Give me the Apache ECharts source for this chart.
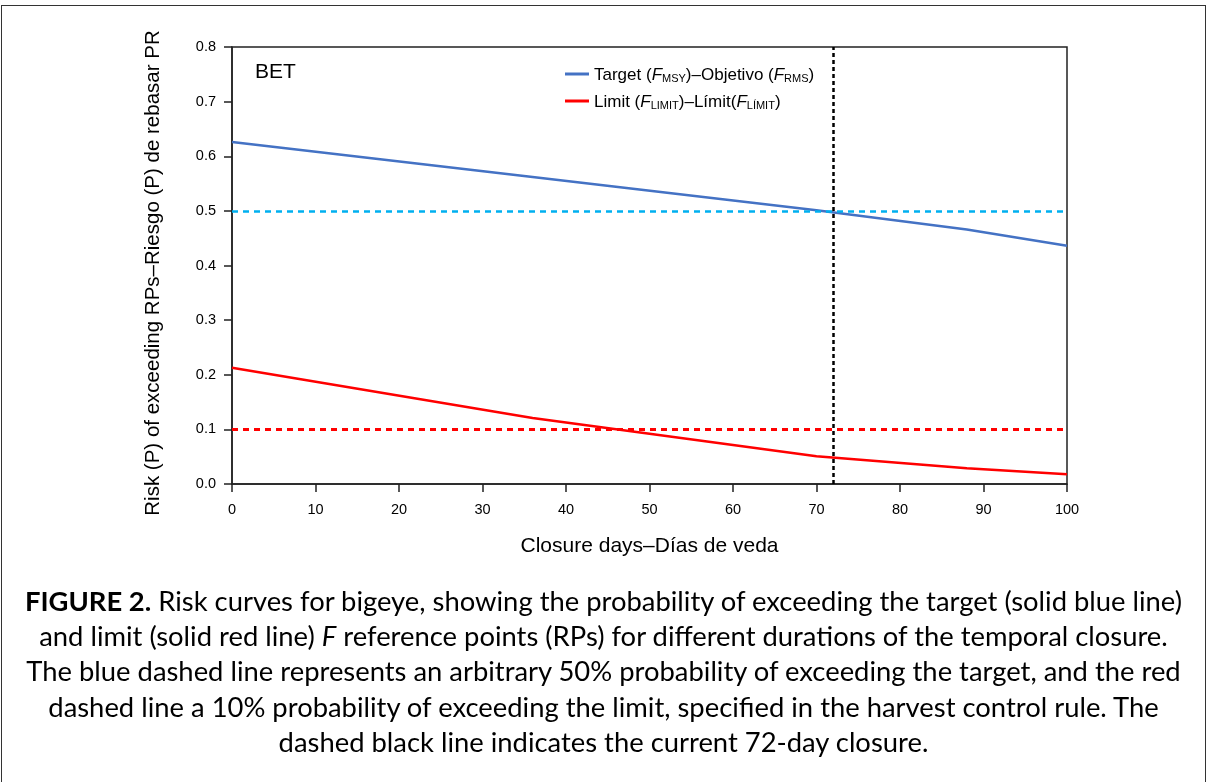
<!DOCTYPE html>
<html><head><meta charset="utf-8">
<script src="https://cdn.jsdelivr.net/npm/echarts@6/dist/echarts.min.js"></script>
<style>
html,body{margin:0;padding:0;background:#fff;}
#wrap{position:relative;width:1207px;height:782px;overflow:hidden;background:#fff;}
#chart{position:absolute;left:0;top:0;width:1207px;height:782px;}
#frame{position:absolute;left:1px;top:5px;width:1205px;height:820px;border:1.5px solid #333;box-sizing:border-box;pointer-events:none;}
#caption{position:absolute;left:0;top:583px;width:1207px;text-align:center;font-family:Lato,"Open Sans",sans-serif;font-size:27.4px;line-height:35.2px;color:#000;white-space:nowrap;}
</style></head>
<body>
<div id="wrap">
<div id="chart"></div>
<div id="frame"></div>
<div id="caption"><b>FIGURE 2.</b> Risk curves for bigeye, showing the probability of exceeding the target (solid blue line)<br>and limit (solid red line) <i>F</i> reference points (RPs) for different durations of the temporal closure.<br>The blue dashed line represents an arbitrary 50% probability of exceeding the target, and the red<br>dashed line a 10% probability of exceeding the limit, specified in the harvest control rule. The<br>dashed black line indicates the current 72-day closure.</div>
</div>
<script>
// ---- data ----
const closureDays = [0, 36, 70, 88, 100];
const targetRisk = [0.626, 0.562, 0.501, 0.466, 0.436];
const limitRisk = [0.213, 0.121, 0.051, 0.029, 0.018];
const targetThreshold = 0.5;
const limitThreshold = 0.1;
const currentClosure = 72;
const seriesNames = ['Target', 'Limit'];
const stockLabel = 'BET';
const xAxisTitle = 'Closure days–Días de veda';
const yAxisTitle = 'Risk (P) of exceeding RPs–Riesgo (P) de rebasar PR';

const FONT = '"Liberation Sans", Arial, sans-serif';
const chart = echarts.init(document.getElementById('chart'), null, {renderer: 'canvas'});

const legendRich = {
  t: {fontSize: 17, fontFamily: FONT, color: '#000', lineHeight: 20, verticalAlign: 'bottom'},
  i: {fontSize: 17, fontFamily: FONT, color: '#000', fontStyle: 'italic', lineHeight: 20, verticalAlign: 'bottom'},
  s: {fontSize: 11, fontFamily: FONT, color: '#000', lineHeight: 8, verticalAlign: 'bottom'}
};

const option = {
  animation: false,
  backgroundColor: 'transparent',
  grid: {left: 232, right: 140, top: 47, bottom: 298, show: true, borderColor: '#222', borderWidth: 1.5, containLabel: false},
  legend: {
    data: seriesNames,
    orient: 'vertical',
    left: 560, top: 62,
    itemGap: 10,
    itemWidth: 24, itemHeight: 3,
    icon: 'rect',
    formatter: function (name) {
      if (name === 'Target') return '{t|Target (}{i|F}{s|MSY}{t|)–Objetivo (}{i|F}{s|RMS}{t|)}';
      return '{t|Limit (}{i|F}{s|LIMIT}{t|)–Límit(}{i|F}{s|LÍMIT}{t|)}';
    },
    textStyle: {rich: legendRich, padding: [0, 0, 0, 0]}
  },
  graphic: [
    {type: 'text', left: 255, top: 62, style: {text: stockLabel, font: '21px ' + FONT, fill: '#000'}},
    {type: 'text', x: 153, y: 273, rotation: Math.PI / 2, style: {text: yAxisTitle, font: '20.5px ' + FONT, fill: '#000', align: 'center', verticalAlign: 'middle'}}
  ],
  xAxis: {
    type: 'value', min: 0, max: 100, interval: 10,
    name: xAxisTitle, nameLocation: 'middle', nameGap: 52,
    nameTextStyle: {fontSize: 21, fontFamily: FONT, color: '#000'},
    axisLine: {show: true, lineStyle: {color: '#222', width: 1.5}},
    axisTick: {show: true, length: 8, lineStyle: {color: '#222', width: 1.5}},
    axisLabel: {fontSize: 14.5, fontFamily: FONT, color: '#000', margin: 18},
    splitLine: {show: false}
  },
  yAxis: {
    type: 'value', min: 0, max: 0.8, interval: 0.1,
    axisLine: {show: true, lineStyle: {color: '#222', width: 1.5}},
    axisTick: {show: true, length: 8, lineStyle: {color: '#222', width: 1.5}},
    axisLabel: {fontSize: 14.5, fontFamily: FONT, color: '#000', margin: 16, formatter: v => v.toFixed(1)},
    splitLine: {show: false}
  },
  series: [
    {
      name: 'refs', type: 'line', data: [], silent: true,
      markLine: {
        silent: true, symbol: ['none', 'none'], label: {show: false}, animation: false,
        data: [
          {yAxis: targetThreshold, lineStyle: {color: '#00B0F0', type: [6, 5], width: 2.5}},
          {yAxis: limitThreshold, lineStyle: {color: '#FF0000', type: [6, 5], width: 2.8}},
          {xAxis: currentClosure, lineStyle: {color: '#000', type: [4, 3], width: 2.5}}
        ]
      }
    },
    {
      name: seriesNames[0], type: 'line', symbol: 'none', z: 3,
      data: closureDays.map((d, i) => [d, targetRisk[i]]),
      itemStyle: {color: '#4472C4'}, lineStyle: {color: '#4472C4', width: 2.5}
    },
    {
      name: seriesNames[1], type: 'line', symbol: 'none', z: 3,
      data: closureDays.map((d, i) => [d, limitRisk[i]]),
      itemStyle: {color: '#FF0000'}, lineStyle: {color: '#FF0000', width: 2.5}
    }
  ]
};
chart.setOption(option);
</script>
</body></html>
